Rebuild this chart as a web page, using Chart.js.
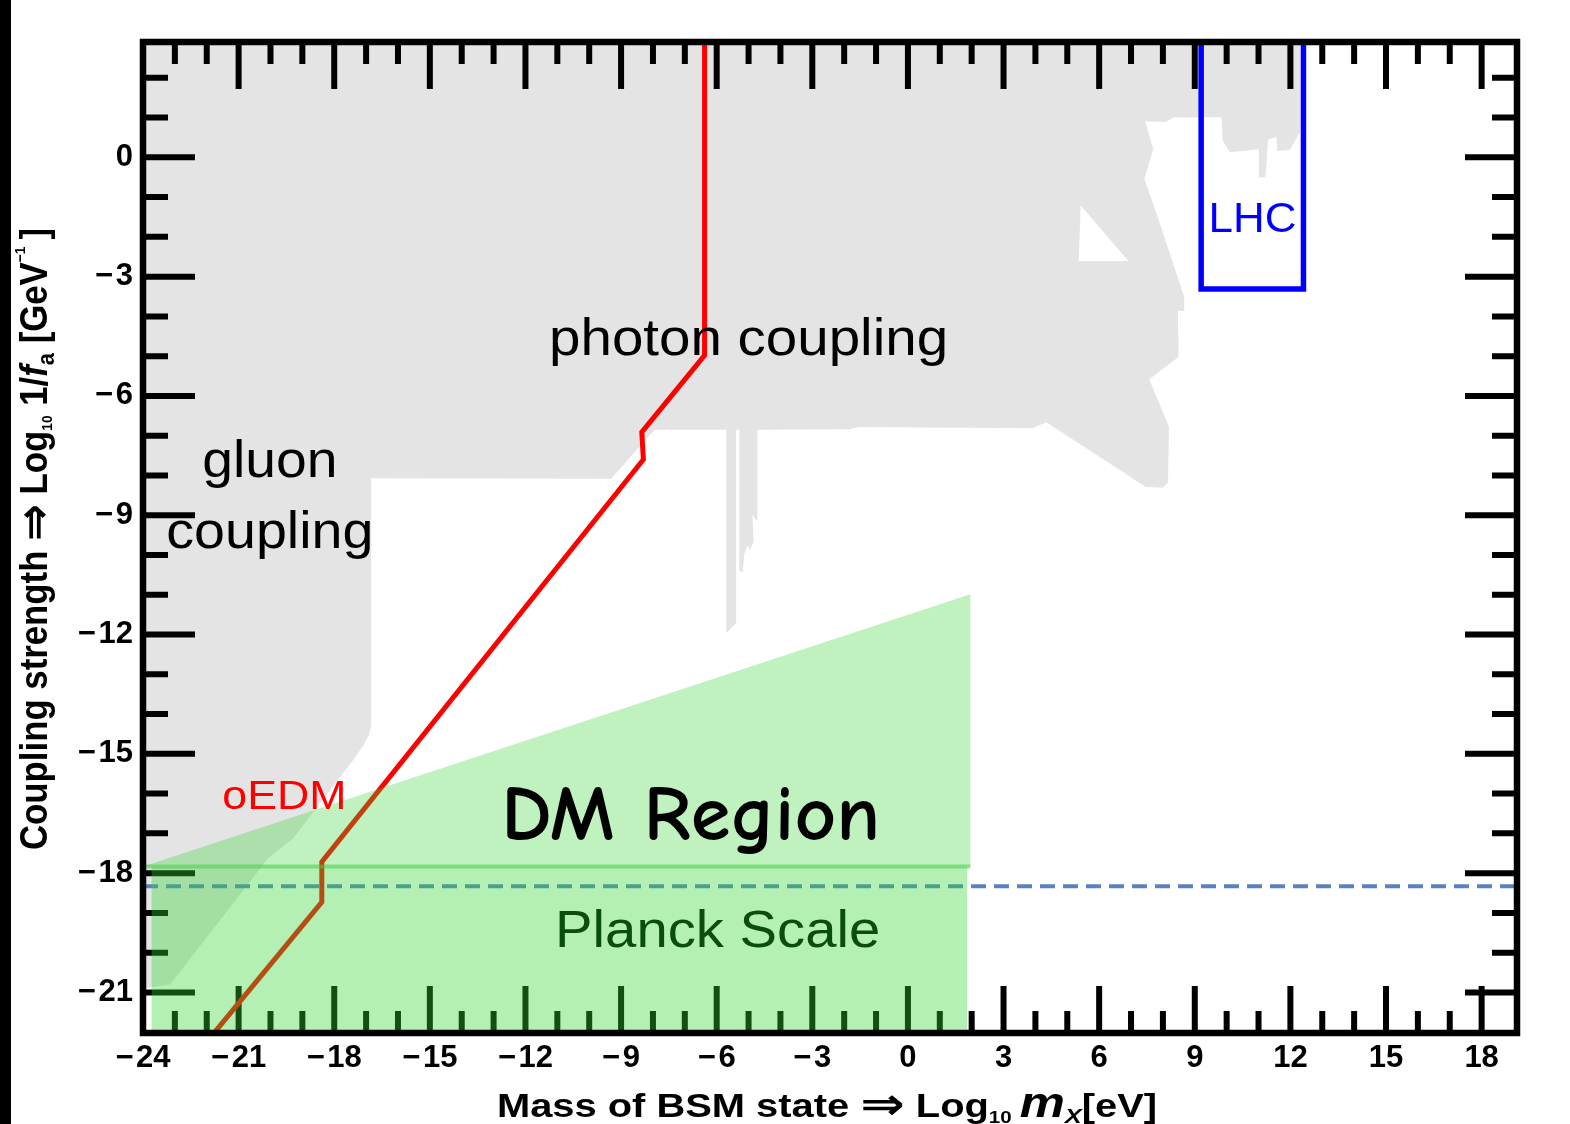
<!DOCTYPE html>
<html>
<head>
<meta charset="utf-8">
<script src="https://cdn.jsdelivr.net/npm/chart.js@4.4.1/dist/chart.umd.min.js"></script>
<style>
  html, body { margin: 0; padding: 0; background: #ffffff; }
  canvas { display: block; }
</style>
</head>
<body>
<canvas id="c" width="1570" height="1124"></canvas>
<script>
// ================= DATA =================
const xRange = [-24, 19.11];
const yRange = [-22.02, 2.9];

const xMajorTicks = [-24, -21, -18, -15, -12, -9, -6, -3, 0, 3, 6, 9, 12, 15, 18];
const xMinorTicks = [-23, -22, -20, -19, -17, -16, -14, -13, -11, -10, -8, -7, -5, -4, -2, -1, 1, 2, 4, 5, 7, 8, 10, 11, 13, 14, 16, 17];
const yMajorTicks = [-21, -18, -15, -12, -9, -6, -3, 0];
const yMinorTicks = [-20, -19, -17, -16, -14, -13, -11, -10, -8, -7, -5, -4, -2, -1, 1, 2];

// excluded region (photon + gluon couplings), boundary traced clockwise
const excludedX = [-24, 12.31, 12.31, 11.98, 11.59, 11.56, 11.30, 11.22, 11.01, 11.01, 10.10, 9.87, 9.84, 8.31, 8.10, 7.44, 7.70, 7.42, 7.87, 8.67, 8.67, 8.47, 8.49, 7.57, 8.19, 8.16, 7.99, 7.47, 4.34, 3.90, -1.55, -1.81, -4.72, -4.72, -4.88, -4.84, -4.95, -5.05, -5.14, -5.18, -5.29, -5.29, -5.39, -5.39, -5.68, -5.70, -7.95, -9.31, -16.84, -16.84, -16.92, -17.10, -17.41, -19.29, -20.08, -23.15, -24];
const excludedY = [3.5, 3.5, 0.64, 0.19, 0.16, 0.51, 0.45, -0.50, -0.51, 0.20, 0.13, 0.43, 1.01, 1.00, 0.89, 0.91, 0.20, -0.54, -1.58, -3.51, -3.87, -3.85, -5.02, -5.58, -6.77, -8.18, -8.31, -8.29, -6.66, -6.81, -6.78, -6.84, -6.85, -9.15, -8.99, -9.66, -9.87, -9.76, -10.01, -10.43, -10.40, -6.85, -6.85, -11.71, -11.95, -6.85, -6.85, -8.08, -8.07, -14.29, -14.55, -14.80, -15.16, -17.13, -17.63, -20.80, -20.90];

// unexcluded window inside the grey region
const holeX = [5.42, 5.36, 6.92];
const holeY = [-1.21, -2.61, -2.61];

// oEDM bound
const oedmX = [-6.38, -6.38, -8.35, -8.30, -18.39, -18.39, -21.71, -22.80];
const oedmY = [3.5, -4.98, -6.91, -7.60, -17.72, -18.73, -21.96, -23.00];

// LHC box
const lhcX = [9.20, 9.20, 12.41, 12.41];
const lhcY = [3.5, -3.31, -3.31, 3.5];

// dashed reference line
const dashedX = [-24, 19.11];
const dashedY = [-18.33, -18.33];

// DM region (triangle) and Planck band
const dmX = [-24, 1.96, 1.96];
const dmY = [-17.83, -10.99, -17.83];
const planckX = [-23.73, 1.86, 1.86, -23.73];
const planckY = [-17.83, -17.83, -22.6, -22.6];
const planckEdgeX = [-24, 1.96];
const planckEdgeY = [-17.83, -17.83];

// text labels: [text, left x, right x, baseline y] in data units
const labels = {
  photon:  ['photon coupling', -11.26, 1.26, -4.97],
  gluon:   ['gluon', -22.14, -17.90, -8.04],
  gluon2:  ['coupling', -23.27, -16.77, -9.82],
  oedm:    ['oEDM', -21.51, -17.62, -16.38],
  lhc:     ['LHC', 9.43, 12.19, -1.88],
  dm:      ['DM Region', -12.76, -0.87, -17.16],
  planck:  ['Planck Scale', -11.07, -0.87, -19.85]
};

// ================= HELPERS =================
function pts(xs, ys) { return xs.map((x, i) => ({ x: x, y: ys[i] })); }
function fmt(v) { return v < 0 ? '\u2212\u200A' + Math.abs(v) : String(v); }

const SANS = '"Liberation Sans", Arial, sans-serif';
const ARROW = '"DejaVu Sans", sans-serif';

function drawRuns(ctx, runs, x, y, targetW, color) {
  let w = 0;
  runs.forEach(r => { ctx.font = r.font; r.w = ctx.measureText(r.t).width; w += r.w; });
  const k = targetW ? targetW / w : 1;
  ctx.save();
  ctx.translate(x, y);
  ctx.scale(k, 1);
  ctx.fillStyle = color;
  ctx.textAlign = 'left';
  ctx.textBaseline = 'alphabetic';
  let cx = 0;
  runs.forEach(r => { ctx.font = r.font; ctx.fillText(r.t, cx, r.dy || 0); cx += r.w; });
  ctx.restore();
}

const frameTicks = {
  id: 'frameTicks',
  beforeDatasetDraw(chart, args) {
    if (chart.data.datasets[args.index].label !== 'oEDM') return;
    const ctx = chart.ctx, xs = chart.scales.x, ys = chart.scales.y, a = chart.chartArea;
    ctx.save();
    ctx.strokeStyle = '#000';
    ctx.lineWidth = 6;
    ctx.lineCap = 'butt';
    ctx.beginPath();
    const xt = (list, len) => list.forEach(v => {
      const p = xs.getPixelForValue(v);
      ctx.moveTo(p, a.bottom); ctx.lineTo(p, a.bottom - len);
      ctx.moveTo(p, a.top); ctx.lineTo(p, a.top + len);
    });
    const yt = (list, len) => list.forEach(v => {
      const p = ys.getPixelForValue(v);
      ctx.moveTo(a.left, p); ctx.lineTo(a.left + len, p);
      ctx.moveTo(a.right, p); ctx.lineTo(a.right - len, p);
    });
    xt(xMajorTicks, 47); xt(xMinorTicks, 22);
    yt(yMajorTicks, 52); yt(yMinorTicks, 25);
    ctx.stroke();
    ctx.restore();
  },
  afterDatasetsDraw(chart) {
    const ctx = chart.ctx, a = chart.chartArea;
    ctx.save();
    ctx.strokeStyle = '#000';
    ctx.lineWidth = 6.5;
    ctx.lineJoin = 'miter';
    ctx.strokeRect(a.left, a.top, a.right - a.left, a.bottom - a.top);
    ctx.restore();
  }
};

const textPlugin = {
  id: 'texts',
  afterDraw(chart) {
    const ctx = chart.ctx, xs = chart.scales.x, ys = chart.scales.y;
    // left black strip
    ctx.save(); ctx.fillStyle = '#000'; ctx.fillRect(0, 0, 11, chart.height); ctx.restore();

    const put = (key, font, color) => {
      const [t, x0, x1, yb] = labels[key];
      const px0 = xs.getPixelForValue(x0), px1 = xs.getPixelForValue(x1);
      drawRuns(ctx, [{ t: t, font: font }], px0, ys.getPixelForValue(yb), px1 - px0, color);
    };
    put('photon', '52px ' + SANS, '#000');
    put('gluon', '52px ' + SANS, '#000');
    put('gluon2', '52px ' + SANS, '#000');
    put('oedm', '41px ' + SANS, '#ff0000');
    put('lhc', '42px ' + SANS, '#0000ff');
    put('dm', 'bold 78px "Comic Sans MS", "Comic Neue", Lato, sans-serif', '#000');
    put('planck', '52px ' + SANS, '#0b4d0b');

    // x-axis title
    const B = 'bold ', BI = 'italic bold ';
    drawRuns(ctx, [
      { t: 'Mass of BSM state ', font: B + '33px ' + SANS },
      { t: '\u21D2', font: B + '44px ' + ARROW, dy: 2 },
      { t: ' Log', font: B + '33px ' + SANS },
      { t: '10', font: B + '17px ' + SANS, dy: 6 },
      { t: '\u2009', font: B + '33px ' + SANS },
      { t: 'm', font: BI + '42px ' + SANS },
      { t: 'X', font: BI + '21px ' + SANS, dy: 6 },
      { t: '[eV]', font: B + '33px ' + SANS }
    ], 497, 1117, 660, '#000');

    // y-axis title (rotated)
    ctx.save();
    ctx.translate(47, 850);
    ctx.rotate(-Math.PI / 2);
    drawRuns(ctx, [
      { t: 'Coupling strength ', font: B + '38px ' + SANS },
      { t: '\u21D2', font: B + '48px ' + ARROW, dy: 3 },
      { t: ' Log', font: B + '38px ' + SANS },
      { t: '10', font: B + '15px ' + SANS, dy: 5 },
      { t: ' 1/', font: B + '38px ' + SANS },
      { t: 'f', font: BI + '38px ' + SANS },
      { t: 'a', font: B + '24px ' + SANS, dy: 7 },
      { t: ' [GeV', font: B + '38px ' + SANS },
      { t: '\u22121', font: B + '15px ' + SANS, dy: -22 },
      { t: '\u2009]', font: B + '38px ' + SANS }
    ], 0, 0, 622, '#000');
    ctx.restore();
  }
};

// ================= CHART =================
const base = { showLine: true, pointRadius: 0, pointHoverRadius: 0, tension: 0 };

new Chart(document.getElementById('c').getContext('2d'), {
  type: 'line',
  data: {
    datasets: [
      Object.assign({}, base, { label: 'excluded', data: pts(excludedX, excludedY), fill: 'shape', backgroundColor: '#e4e4e4', borderWidth: 0, order: 10 }),
      Object.assign({}, base, { label: 'hole', data: pts(holeX, holeY), fill: 'shape', backgroundColor: '#ffffff', borderWidth: 0, order: 9 }),
      Object.assign({}, base, { label: 'LHC', data: pts(lhcX, lhcY), fill: false, borderColor: '#0000ff', borderWidth: 5.5, order: 8 }),
      Object.assign({}, base, { label: 'dashed', data: pts(dashedX, dashedY), fill: false, borderColor: '#5b80bf', borderWidth: 4, borderDash: [15, 8], order: 7 }),
      Object.assign({}, base, { label: 'oEDM', data: pts(oedmX, oedmY), fill: false, borderColor: '#ff0000', borderWidth: 5, order: 6 }),
      Object.assign({}, base, { label: 'Planck band', data: pts(planckX, planckY), fill: 'shape', backgroundColor: 'rgba(52,213,52,0.37)', borderWidth: 0, order: 5 }),
      Object.assign({}, base, { label: 'DM region', data: pts(dmX, dmY), fill: 'shape', backgroundColor: 'rgba(52,213,52,0.31)', borderWidth: 0, order: 4 }),
      Object.assign({}, base, { label: 'Planck edge', data: pts(planckEdgeX, planckEdgeY), fill: false, borderColor: 'rgba(70,205,70,0.55)', borderWidth: 4, order: 3 })
    ]
  },
  options: {
    responsive: false,
    animation: false,
    events: [],
    layout: { padding: { left: 0, top: 42, right: 53, bottom: 0 } },
    plugins: { legend: { display: false }, tooltip: { enabled: false }, title: { display: false } },
    scales: {
      x: {
        type: 'linear', min: xRange[0], max: xRange[1], bounds: 'data',
        grid: { display: false, drawTicks: false }, border: { display: false },
        ticks: { autoSkip: false, maxRotation: 0, padding: 7, color: '#000',
          font: { family: SANS, size: 31, weight: 'bold' }, callback: v => fmt(v) },
        afterBuildTicks: s => { s.ticks = xMajorTicks.map(v => ({ value: v })); },
        afterFit: s => { s.height = 91; }
      },
      y: {
        type: 'linear', min: yRange[0], max: yRange[1], bounds: 'data',
        grid: { display: false, drawTicks: false }, border: { display: false },
        ticks: { autoSkip: false, padding: 10, color: '#000',
          font: { family: SANS, size: 31, weight: 'bold' }, callback: v => fmt(v) },
        afterBuildTicks: s => { s.ticks = yMajorTicks.map(v => ({ value: v })); },
        afterFit: s => { s.width = 143; }
      }
    }
  },
  plugins: [frameTicks, textPlugin]
});
</script>
</body>
</html>
